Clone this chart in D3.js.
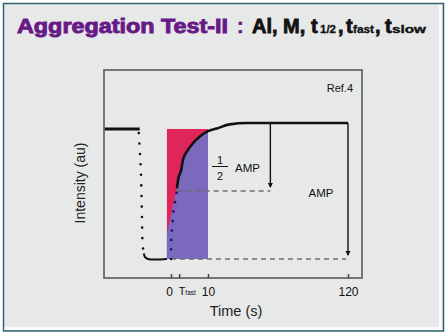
<!DOCTYPE html>
<html><head><meta charset="utf-8">
<script src="https://cdn.jsdelivr.net/npm/d3@7"></script>
<style>html,body{margin:0;padding:0;background:#fff;}svg{display:block;}</style>
</head><body>
<svg id="chart" width="447" height="336"></svg>
<script>
// Recovery after the drop: time (s) and normalized intensity (0 = trough, 1 = final plateau)
const recoveryTime      = [0, 0.02, 0.1, 0.3, 0.55, 0.8, 1.35, 1.6, 1.9, 2.7, 3.25, 4.3, 5.9, 7.8, 10, 17, 27, 41, 60, 120];
const recoveryIntensity = [0, 0.08, 0.16, 0.23, 0.30, 0.38, 0.45, 0.52, 0.58, 0.65, 0.73, 0.79, 0.85, 0.90, 0.94, 0.96, 0.99, 1.0, 1.0, 1.0];
// Initial plateau and the drop before t = 0
const baselineTime      = [-18, -8.4];
const baselineIntensity = [0.956, 0.956];
const dropTime          = [-8.65, -8.4, -8.1, -7.8, -7.6, -7.3];
const dropIntensity     = [0.926, 0.80, 0.65, 0.32, 0.10, 0.04];
const troughTime        = [-7.3, -7.0, -6.2, -1.1];
const troughIntensity   = [0.04, 0.015, 0, 0];
// Shaded window used for the fast component
const fastWindow  = [-1.1, 10];
const fastEdgeTime      = [-1.1, 0.8, 1.6];
const fastEdgeIntensity = [0.19, 0.42, 0.52];
// Amplitude markers
const halfAmpTime = 59;
const ampTime = 120;
// Axis ticks
const tickTimes  = [0, 2.2, 10, 120];
const tickLabels = ["0", "T", "10", "120"];

const svg = d3.select("#chart");
const FONT = "Liberation Sans, Arial, sans-serif";

// frame and panel
svg.append("rect").attr("x", 3.5).attr("y", 3.5).attr("width", 440).attr("height", 327.5)
  .attr("fill", "#e7e8e8").attr("stroke", "#2a6570").attr("stroke-width", 1.5);
svg.append("line").attr("x1", 4.5).attr("x2", 442).attr("y1", 328.5).attr("y2", 328.5)
  .attr("stroke", "#fff").attr("stroke-width", 2.5);
svg.append("line").attr("x1", 440.5).attr("x2", 440.5).attr("y1", 5).attr("y2", 330)
  .attr("stroke", "#fff").attr("stroke-width", 2.5);

// title
const title = svg.append("text").attr("y", 33)
  .attr("font-family", FONT).attr("font-weight", "bold");
const piece = (x, s, size, color, stroke, len) => {
  const t = title.append("tspan").attr("x", x).attr("font-size", size)
    .attr("fill", color).attr("stroke", color).attr("stroke-width", stroke).text(s);
  if (len) t.attr("textLength", len).attr("lengthAdjust", "spacingAndGlyphs");
  return t;
};
piece(17, "Aggregation Test-II", 20, "#671a86", 0.9, 211);
piece(237, ":", 20, "#671a86", 0.6);
piece(252, "Al, M, t", 20, "#111", 0.8);
piece(320, "1/2", 10.5, "#111", 0.3, 16);
piece(338, ",", 20, "#111", 0.8);
piece(346, "t", 20, "#111", 0.8);
piece(353, "fast", 10, "#111", 0.3, 21);
piece(375, ",", 20, "#111", 0.8);
piece(385, "t", 20, "#111", 0.8);
piece(392, "slow", 10.5, "#111", 0.35, 34);

// plot area
const box = {left: 104, top: 70, right: 362, bottom: 278};
const x = d3.scaleLinear().domain([-18, 0, 10, 120, 131])
  .range([box.left, 171, 208, 348, box.right]);
const y = d3.scaleLinear().domain([-0.14, 1.39]).range([box.bottom, box.top]);

const line = d3.line().x(d => x(d[0])).y(d => y(d[1]));
const zip = (a, b) => a.map((t, i) => [t, b[i]]);
const recovery = zip(recoveryTime, recoveryIntensity);
const plateau = baselineIntensity[0];

// fast window: red above the curve, purple below
svg.append("rect")
  .attr("x", x(fastWindow[0])).attr("width", x(fastWindow[1]) - x(fastWindow[0]))
  .attr("y", y(plateau)).attr("height", y(0) - y(plateau))
  .attr("fill", "#e0255a");
const fastEdge = zip(fastEdgeTime, fastEdgeIntensity)
  .concat(recovery.filter(d => d[0] > 1.6 && d[0] <= fastWindow[1]));
svg.append("path")
  .datum([[fastWindow[0], 0]].concat(fastEdge, [[fastWindow[1], 0]]))
  .attr("d", d3.line().x(d => x(d[0])).y(d => y(d[1])))
  .attr("fill", "#7a69bd");

// dashed reference lines
svg.append("path").datum([[0, 0], [ampTime - 1.5, 0]])
  .attr("d", line).attr("fill", "none").attr("stroke", "#6e6e6e")
  .attr("stroke-width", 1.5).attr("stroke-dasharray", "5,4");
svg.append("path").datum([[1.8, 0.5], [halfAmpTime, 0.5]])
  .attr("d", line).attr("fill", "none").attr("stroke", "#6e6e6e")
  .attr("stroke-width", 1.5).attr("stroke-dasharray", "5,4");

// amplitude arrows
const arrow = (t, v0, v1) => {
  svg.append("line").attr("x1", x(t)).attr("x2", x(t)).attr("y1", y(v0)).attr("y2", y(v1))
    .attr("stroke", "#111").attr("stroke-width", 1.4);
  const xx = x(t), yy = y(v1);
  svg.append("path").attr("d", `M${xx - 2.5},${yy - 4}L${xx + 2.5},${yy - 4}L${xx},${yy + 1}Z`)
    .attr("fill", "#111");
};
arrow(halfAmpTime, 1, 0.53);
arrow(ampTime, 1, 0.03);

// initial plateau, drop and trough
svg.append("path").datum(zip(baselineTime, baselineIntensity))
  .attr("d", line).attr("fill", "none").attr("stroke", "#111").attr("stroke-width", 2.8);
svg.append("path").datum(zip(dropTime, dropIntensity))
  .attr("d", line.curve(d3.curveCatmullRom))
  .attr("fill", "none").attr("stroke", "#111").attr("stroke-width", 2.6)
  .attr("stroke-linecap", "round").attr("stroke-dasharray", "0,10.5");
svg.append("path").datum(zip(troughTime, troughIntensity))
  .attr("d", line.curve(d3.curveCatmullRom))
  .attr("fill", "none").attr("stroke", "#111").attr("stroke-width", 2);

// recovery: dotted fast rise, solid slow approach
svg.append("path").datum(recovery.filter(d => d[0] <= 1.6))
  .attr("d", line.curve(d3.curveCatmullRom))
  .attr("fill", "none").attr("stroke", "#15135a").attr("stroke-width", 2.6)
  .attr("stroke-linecap", "round").attr("stroke-dasharray", "0,9.5");
svg.append("path").datum(recovery.filter(d => d[0] >= 1.6))
  .attr("d", line.curve(d3.curveMonotoneX))
  .attr("fill", "none").attr("stroke", "#111").attr("stroke-width", 2.6);

// plot frame
svg.append("rect").attr("x", box.left).attr("y", box.top)
  .attr("width", box.right - box.left).attr("height", box.bottom - box.top)
  .attr("fill", "none").attr("stroke", "#6a6a6a").attr("stroke-width", 1.8);

// x axis ticks and labels
const axis = svg.append("g").attr("transform", `translate(0,${box.bottom})`)
  .call(d3.axisBottom(x).tickValues(tickTimes).tickSize(-4).tickPadding(9)
    .tickFormat((d, i) => tickLabels[i]));
axis.select(".domain").remove();
axis.selectAll(".tick line").attr("stroke", "#444").attr("stroke-width", 1.5);
axis.selectAll(".tick text").attr("font-family", FONT)
  .attr("font-size", 12).attr("fill", "#111");
axis.selectAll(".tick text").filter((d, i) => i === 0).attr("x", -2);
axis.selectAll(".tick text").filter((d, i) => i === 1)
  .attr("text-anchor", "start").attr("x", -1).attr("font-size", 11)
  .append("tspan").attr("font-size", 6.5).text("fast");

// axis titles
svg.append("text").attr("x", 236).attr("y", 316).attr("text-anchor", "middle")
  .attr("font-family", FONT).attr("font-size", 14.5)
  .attr("fill", "#222").text("Time (s)");
svg.append("text").attr("transform", "translate(85,183) rotate(-90)").attr("text-anchor", "middle")
  .attr("font-family", FONT).attr("font-size", 14)
  .attr("fill", "#222").text("Intensity (au)");

// annotations
const ann = (xx, yy, s, size, anchor) => svg.append("text").attr("x", xx).attr("y", yy)
  .attr("text-anchor", anchor || "start").attr("font-family", FONT)
  .attr("font-size", size).attr("fill", "#111").text(s);
ann(353, 92, "Ref.4", 11, "end");
ann(220, 164, "1", 11, "middle");
svg.append("line").attr("x1", 212).attr("x2", 228).attr("y1", 166.5).attr("y2", 166.5)
  .attr("stroke", "#111").attr("stroke-width", 1);
ann(220, 180, "2", 11, "middle");
ann(235, 172, "AMP", 11.5);
ann(321, 197, "AMP", 11.5, "middle");
</script>
</body></html>
